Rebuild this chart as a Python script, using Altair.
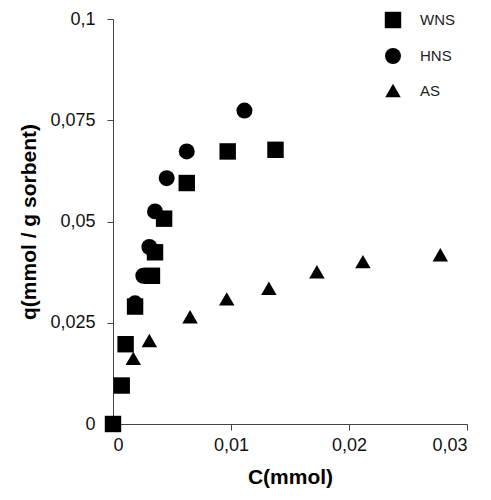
import altair as alt
import pandas as pd

series_names = ["WNS", "HNS", "AS"]
shapes = ["square", "circle", "triangle-up"]
sizes = [270, 240, 420]

wns_c = [0.0, 0.00074, 0.00107, 0.00187, 0.0033, 0.00356, 0.00433, 0.00625, 0.00972, 0.01377]
wns_q = [0.0, 0.0095, 0.0197, 0.029, 0.0366, 0.0424, 0.0507, 0.0595, 0.0673, 0.0677]
hns_c = [0.00187, 0.00257, 0.00308, 0.00356, 0.00455, 0.00625, 0.01114]
hns_q = [0.0298, 0.0366, 0.0437, 0.0525, 0.0607, 0.0673, 0.0774]
as_c = [0.00172, 0.00308, 0.00653, 0.00964, 0.01321, 0.01728, 0.02118, 0.02774]
as_q = [0.0162, 0.0206, 0.0265, 0.0309, 0.0335, 0.0376, 0.0401, 0.0418]

x_ticks = [0, 0.01, 0.02, 0.03]
y_ticks = [0, 0.025, 0.05, 0.075, 0.1]

rows = []
for name, cs, qs in [("HNS", hns_c, hns_q), ("WNS", wns_c, wns_q), ("AS", as_c, as_q)]:
    for c, q in zip(cs, qs):
        rows.append({"series": name, "C": c, "q": q})
df = pd.DataFrame(rows)

comma = "replace(toString(datum.value), '.', ',')"
font = "Liberation Sans"

legend = alt.Legend(title=None, orient="none", legendX=271, legendY=-8,
                    symbolFillColor="black", symbolStrokeColor="black",
                    labelFontSize=15, labelFont=font, labelColor="#222",
                    labelOffset=18, rowPadding=13, padding=0)

chart = alt.Chart(df).mark_point(filled=True, color="black", opacity=1).encode(
    x=alt.X("C:Q", title="C(mmol)",
            scale=alt.Scale(domain=[0, 0.03], nice=False, zero=True),
            axis=alt.Axis(values=x_ticks, labelExpr=comma, grid=False,
                          tickSize=6, labelPadding=6, titleY=59,
                          titleBaseline="alphabetic")),
    y=alt.Y("q:Q", title="q(mmol / g sorbent)",
            scale=alt.Scale(domain=[0, 0.1], nice=False, zero=True),
            axis=alt.Axis(values=y_ticks, labelExpr=comma, grid=False,
                          tickSize=6, labelPadding=12, titlePadding=10)),
    shape=alt.Shape("series:N", scale=alt.Scale(domain=series_names, range=shapes),
                    legend=legend),
    size=alt.Size("series:N", scale=alt.Scale(domain=series_names, range=sizes),
                  legend=legend),
).properties(
    width=354, height=405,
    padding={"left": 105, "top": 11, "right": 16, "bottom": 68},
    autosize=alt.AutoSizeParams(type="none"),
).configure_view(stroke=None).configure_axis(
    domainColor="#444", tickColor="#444", labelColor="#111",
    labelFont=font, labelFontSize=18, titleFont=font, titleFontSize=21,
    titleFontWeight="bold", titleColor="black",
)

chart.save("out.html", embed_options={"renderer": "svg", "actions": False})
